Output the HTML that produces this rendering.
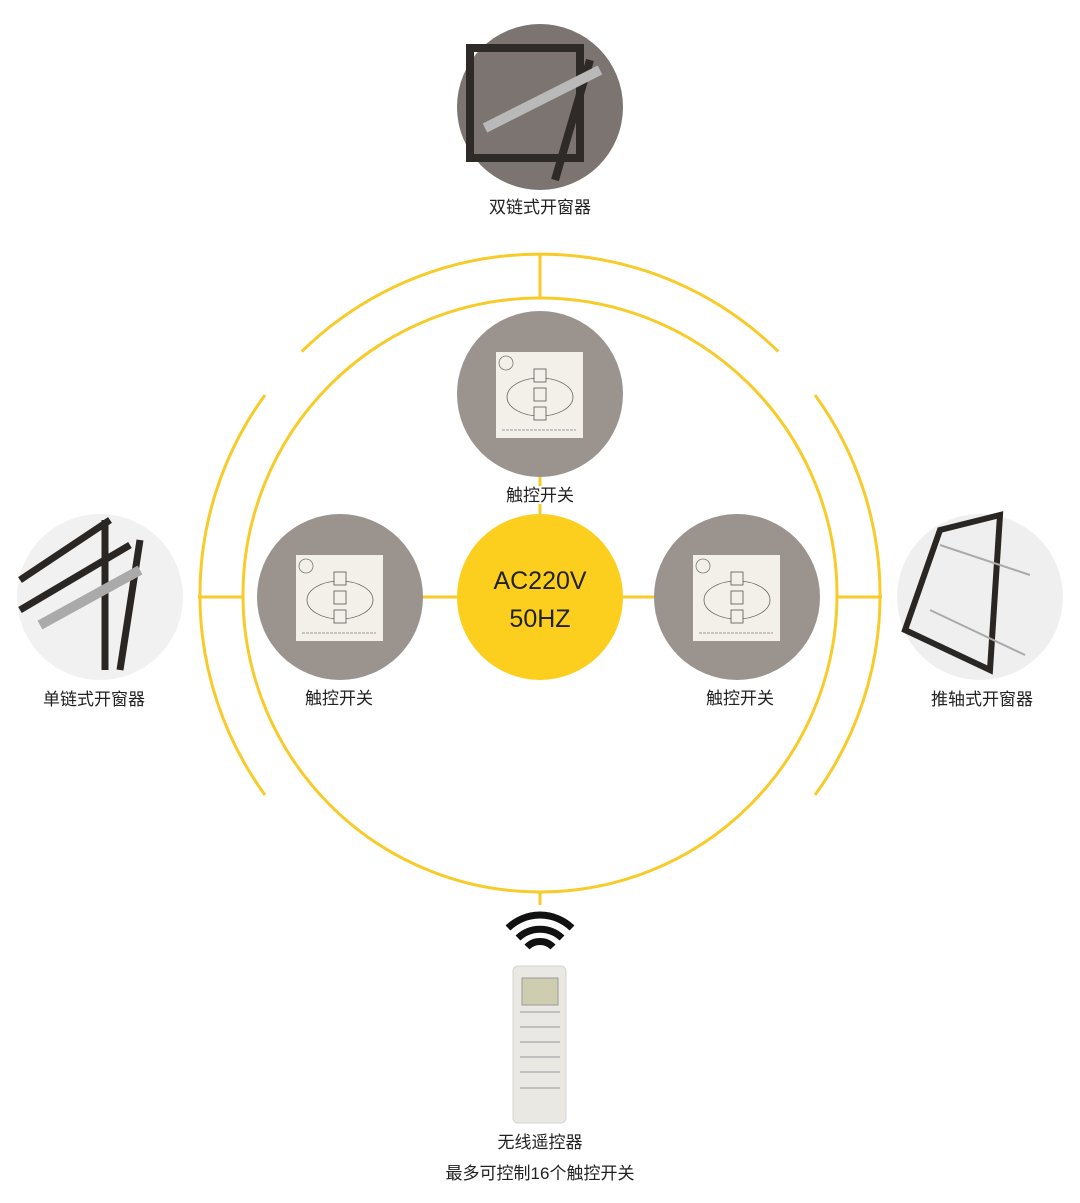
<!DOCTYPE html>
<html><head><meta charset="utf-8"><style>
body{margin:0;background:#fff;width:1080px;height:1203px;overflow:hidden}
svg{display:block}
text{font-family:"Liberation Sans","Noto Sans CJK SC",sans-serif}
</style></head><body>
<svg width="1080" height="1203" viewBox="0 0 1080 1203" xmlns="http://www.w3.org/2000/svg">
<defs>
<g id="sw">
<circle cx="0" cy="0" r="83" fill="#9a938e"/>
<rect x="-44" y="-42" width="87" height="86" fill="#f3f0ea"/>
<circle cx="-34" cy="-31" r="7" fill="none" stroke="#777" stroke-width="0.8"/>
<ellipse cx="0" cy="3" rx="33" ry="19" fill="none" stroke="#666" stroke-width="0.8"/>
<rect x="-6" y="-25" width="12" height="13" fill="#f3f0ea" stroke="#555" stroke-width="0.8"/>
<rect x="-6" y="-6" width="12" height="13" fill="#f3f0ea" stroke="#555" stroke-width="0.8"/>
<rect x="-6" y="13" width="12" height="13" fill="#f3f0ea" stroke="#555" stroke-width="0.8"/>
<line x1="-38" y1="36" x2="36" y2="36" stroke="#999" stroke-width="1" stroke-dasharray="3 1"/>
</g>
</defs>
<g fill="none" stroke="#f7cb2a" stroke-width="3">
<circle cx="540" cy="595" r="297"/>
<path d="M301.7 351.6 A340 340 0 0 1 778.3 351.6"/>
<path d="M265 395 A340 340 0 0 0 265 795"/>
<path d="M815 395 A340 340 0 0 1 815 795"/>
<line x1="540" y1="255" x2="540" y2="298"/>
<line x1="198" y1="597" x2="243" y2="597"/>
<line x1="837" y1="597" x2="882" y2="597"/>
<line x1="540" y1="892" x2="540" y2="905"/>
<line x1="420" y1="597" x2="660" y2="597"/>
<line x1="540" y1="476" x2="540" y2="515"/>
</g>
<circle cx="540" cy="597" r="83" fill="#fccf1e"/>
<text x="540" y="589" font-size="25" text-anchor="middle" fill="#222">AC220V</text>
<text x="540" y="627" font-size="25" text-anchor="middle" fill="#222">50HZ</text>
<use href="#sw" x="540" y="394"/>
<use href="#sw" x="340" y="597"/>
<use href="#sw" x="737" y="597"/>
<rect x="500" y="486" width="80" height="18" fill="#fff"/>
<g font-size="17" text-anchor="middle" fill="#222">
<text x="540" y="501">触控开关</text>
<text x="339" y="704">触控开关</text>
<text x="740" y="704">触控开关</text>
<text x="540" y="213">双链式开窗器</text>
<text x="94" y="705">单链式开窗器</text>
<text x="982" y="705">推轴式开窗器</text>
<text x="540" y="1148">无线遥控器</text>
<text x="540" y="1179">最多可控制16个触控开关</text>
</g>
<!-- top photo -->
<circle cx="540" cy="107" r="83" fill="#7b7470"/>
<g stroke="#2e2a28" stroke-width="8" fill="none">
<rect x="470" y="48" width="110" height="110"/>
<line x1="590" y1="60" x2="555" y2="180"/>
</g>
<line x1="485" y1="128" x2="600" y2="70" stroke="#b9b9b9" stroke-width="10"/>
<!-- left photo -->
<circle cx="100" cy="597" r="83" fill="#f1f1f1"/>
<g stroke="#2a2624" stroke-width="7" fill="none">
<line x1="20" y1="580" x2="110" y2="520"/>
<line x1="20" y1="610" x2="130" y2="545"/>
<line x1="105" y1="520" x2="105" y2="670"/>
<line x1="140" y1="540" x2="120" y2="670"/>
</g>
<line x1="40" y1="625" x2="140" y2="570" stroke="#aaa" stroke-width="10"/>
<!-- right photo -->
<circle cx="980" cy="597" r="83" fill="#efefef"/>
<g stroke="#2a2624" stroke-width="6" fill="none">
<path d="M940 530 L905 630 L990 670 L1000 515 Z"/>
</g>
<g stroke="#aaa" stroke-width="2"><line x1="940" y1="545" x2="1030" y2="575"/><line x1="930" y1="610" x2="1025" y2="655"/></g>
<!-- wifi -->
<g fill="none" stroke="#111" stroke-width="7" stroke-linecap="butt">
<path d="M508 928 A46 46 0 0 1 572 928"/>
<path d="M518 938 A32 32 0 0 1 562 938"/>
<path d="M527 947 A18 18 0 0 1 553 947"/>
</g>
<!-- remote -->
<rect x="513" y="966" width="53" height="157" rx="5" fill="#e9e8e3" stroke="#d6d5d0"/>
<rect x="522" y="978" width="36" height="27" fill="#cfcdb0" stroke="#999"/>
<g stroke="#999" stroke-width="1">
<line x1="520" y1="1012" x2="560" y2="1012"/><line x1="520" y1="1027" x2="560" y2="1027"/>
<line x1="520" y1="1042" x2="560" y2="1042"/><line x1="520" y1="1057" x2="560" y2="1057"/>
<line x1="520" y1="1072" x2="560" y2="1072"/><line x1="520" y1="1088" x2="560" y2="1088"/>
</g>
</svg>
</body></html>
